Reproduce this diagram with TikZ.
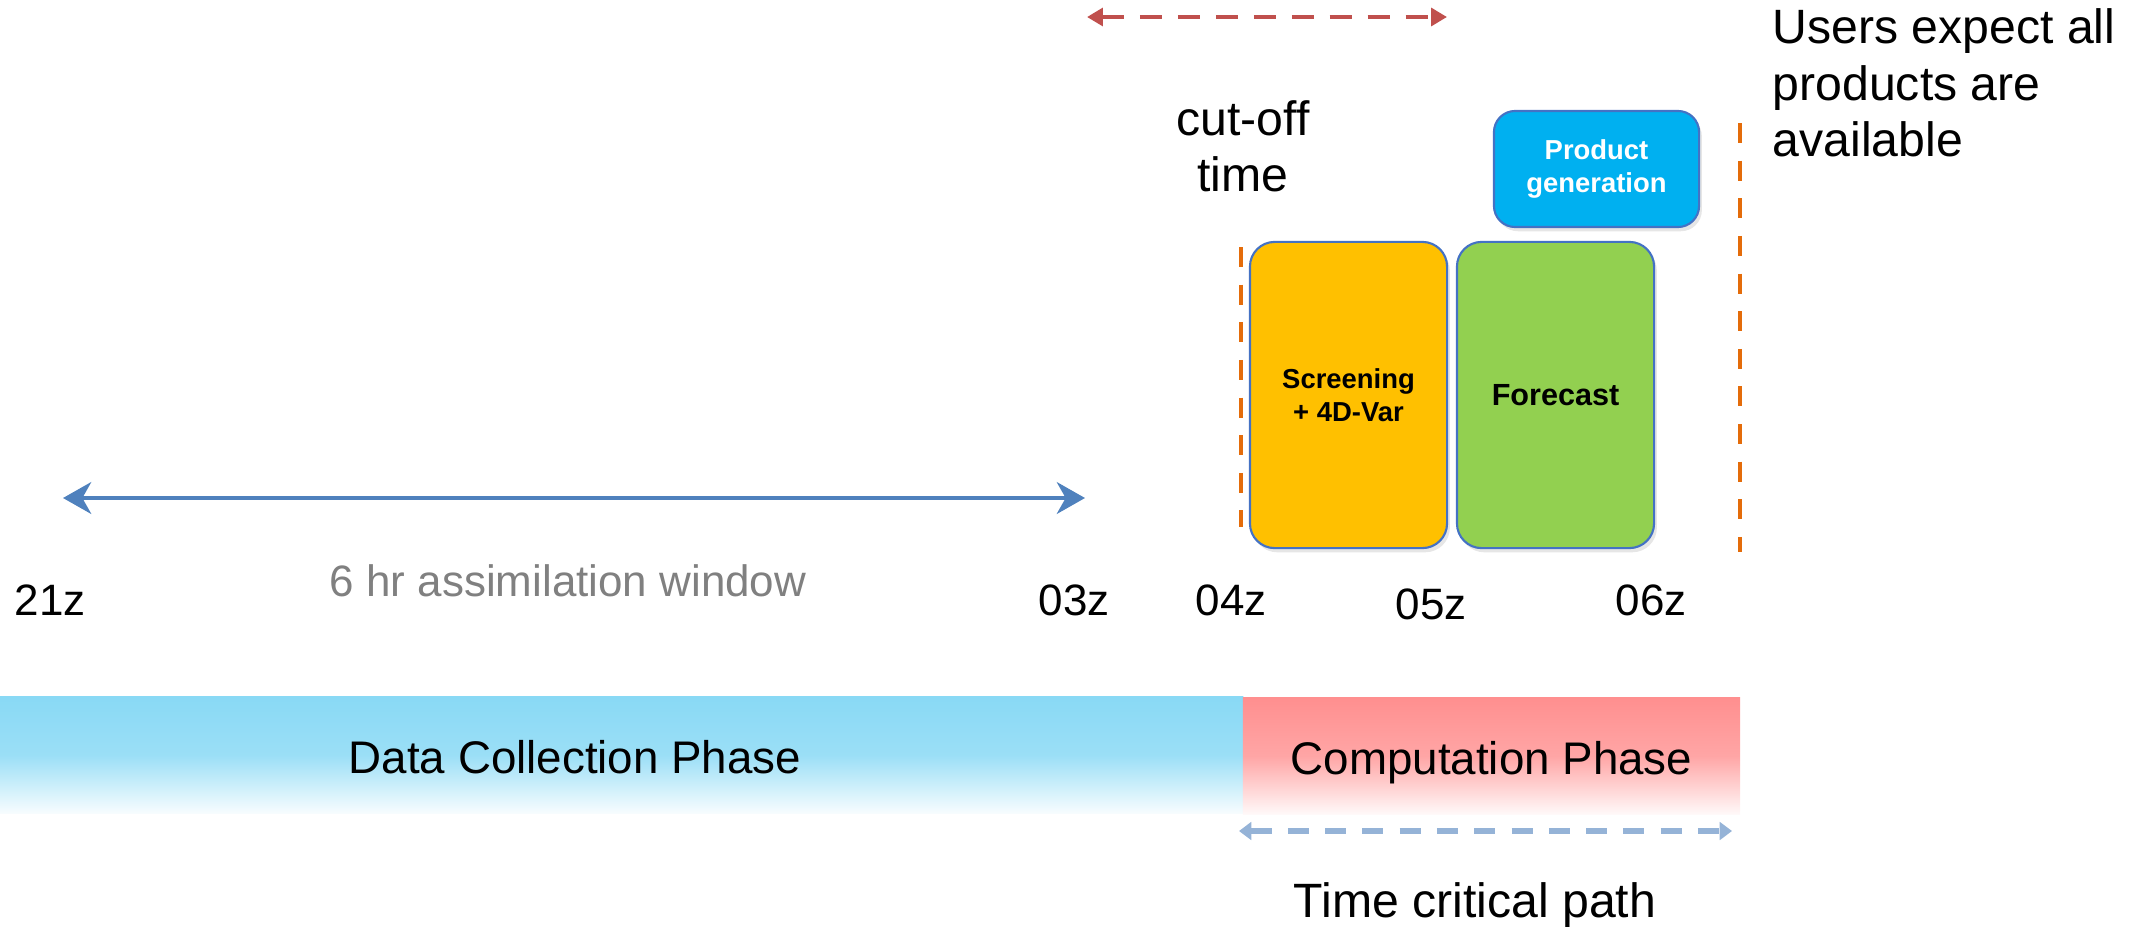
\documentclass[tikz,border=0pt]{standalone}
\usepackage{fontspec}
\setmainfont{Liberation Sans}
\usetikzlibrary{arrows.meta,shadows}
\definecolor{barblue}{RGB}{137,217,245}
\definecolor{barpink}{RGB}{255,143,143}
\definecolor{gold}{RGB}{255,192,0}
\definecolor{leaf}{RGB}{146,208,80}
\definecolor{sky}{RGB}{0,176,240}
\definecolor{rim}{RGB}{68,114,196}
\definecolor{cutoff}{RGB}{228,108,10}
\definecolor{brick}{RGB}{192,80,77}
\definecolor{steel}{RGB}{79,129,189}
\definecolor{paleblue}{RGB}{149,179,215}
\tikzstyle{stage}=[draw=rim,line width=0.6pt,rounded corners=7pt,align=center,inner sep=0pt,font=\bfseries\fontsize{7.8}{9.5}\selectfont,drop shadow={opacity=0.2,shadow xshift=0.8pt,shadow yshift=-1.2pt}]
\tikzstyle{phasebar}=[inner sep=0pt,minimum height=1.17cm]
\tikzstyle{phasetext}=[text depth=0pt,font=\fontsize{13}{15}\selectfont]
\tikzstyle{hour}=[font=\fontsize{12.5}{15}\selectfont]
\tikzstyle{note}=[font=\fontsize{13.7}{16}\selectfont]
\tikzstyle{deadline}=[cutoff,line width=1.2pt,dash pattern=on 5.7pt off 5pt]

\begin{document}
\begin{tikzpicture}[x=0.01cm,y=-0.01cm]
    \useasboundingbox (0,0) rectangle (2131,927);
    % phases
    \node[phasebar,minimum width=12.43cm,top color=barblue,bottom color=white!94!barblue,middle color=barblue!85!white] (datab) at (621.5,755) {};
    \node[phasebar,minimum width=4.97cm,top color=barpink,bottom color=white!95!barpink,middle color=barpink!80!white] (compb) at (1491.5,756) {};
    \node[phasetext] (datat) at (575,757) {Data Collection Phase};
    \node[phasetext] (compt) at (1491.5,758) {Computation Phase};

    % stages
    \node[stage,fill=gold,minimum width=1.97cm,minimum height=3.06cm] (screen) at (1348.5,395) {Screening\\+ 4D-Var};
    \node[stage,fill=leaf,minimum width=1.97cm,minimum height=3.06cm,font=\bfseries\fontsize{8.7}{10}\selectfont] (fcst) at (1555.5,395) {Forecast};
    \node[stage,fill=sky,text=white,rounded corners=6pt,minimum width=2.05cm,minimum height=1.16cm] (prod) at (1596.5,169) {Product\\generation};

    % cut-off and deadline
    \coordinate (c0) at (1241,247);
    \coordinate (c1) at (1241,527);
    \coordinate (d0) at (1740,123);
    \coordinate (d1) at (1740,552);
    \draw[deadline] (c0) -- (c1);
    \draw[deadline] (d0) -- (d1);
    \node[note,align=center] (cut) at (1243,146) {cut-off\\time};
    \node[note,align=left,anchor=west,inner sep=0pt] (users) at (1772,83) {Users expect all\\products are\\available};

    % time axis
    \foreach \name/\x/\y in {21z/50/600,03z/1074/600,04z/1231/600,05z/1431/604,06z/1651/600}
        \node[hour] (t\name) at (\x,\y) {\name};
    \node[hour,text=gray] (win) at (568,581) {6 hr assimilation window};

    \coordinate (w0) at (63,498);
    \coordinate (w1) at (1085,498);
    \draw[steel,line width=1.3pt,{Stealth[length=8pt,width=9pt,inset=2.5pt]}-{Stealth[length=8pt,width=9pt,inset=2.5pt]}] (w0) -- (w1);

    \coordinate (r0) at (1087,17);
    \coordinate (r1) at (1447,17);
    \draw[brick,line width=1.4pt,dash pattern=on 6.3pt off 4.5pt,{Triangle[length=4.5pt,width=5pt]}-{Triangle[length=4.5pt,width=5pt]}] (r0) -- (r1);

    \coordinate (p0) at (1239,831);
    \coordinate (p1) at (1732,831);
    \draw[paleblue,line width=1.8pt,dash pattern=on 6pt off 4.6pt,{Triangle[length=3.5pt,width=5pt]}-{Triangle[length=3.5pt,width=5pt]}] (p0) -- (p1);
    \node[note,anchor=base] (tcp) at (1475,917) {Time critical path};
\end{tikzpicture}
\end{document}
